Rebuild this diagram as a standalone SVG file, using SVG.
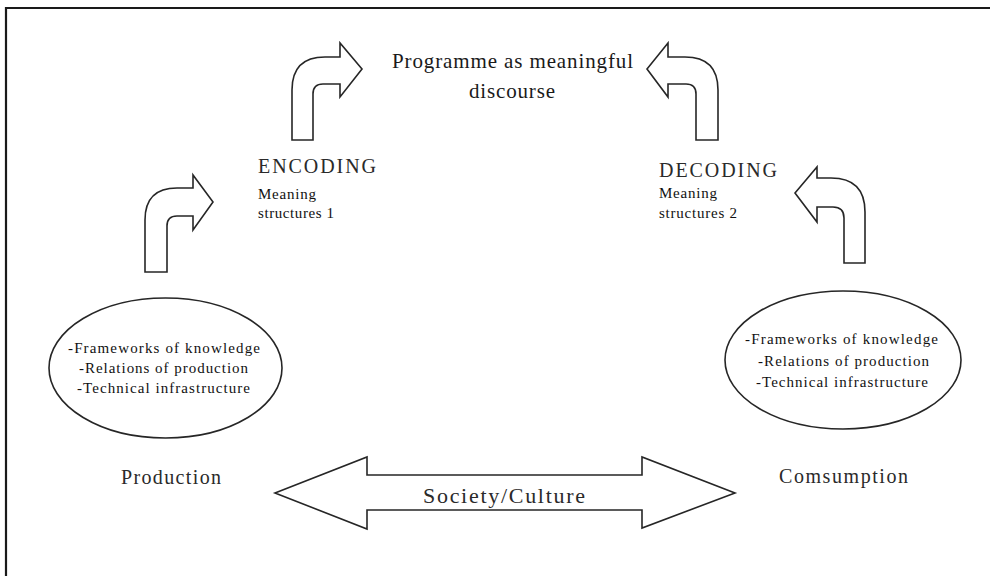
<svg xmlns="http://www.w3.org/2000/svg" width="990" height="576" viewBox="0 0 990 576">
  <style>
    .frame { fill: none; stroke: #1a1a1a; stroke-width: 2.2; }
    .shape { fill: #ffffff; stroke: #262626; stroke-width: 1.6; stroke-linejoin: miter; }
    .t { font-family: "Liberation Serif", "Times New Roman", serif; fill: #1a1a1a; }
    .title { font-size: 21px; }
    .head { font-size: 20px; fill: #2a2a2a; }
    .sub { font-size: 15px; fill: #111111; }
    .list { font-size: 15px; fill: #111111; }
    .label { font-size: 20px; fill: #2a2a2a; }
    .band { font-size: 22px; fill: #2a2a2a; }
  </style>

  <rect width="990" height="576" fill="#ffffff"/>
  <!-- outer border (open to the right and bottom) -->
  <path class="frame" d="M6,576 L6,8 L990,8"/>

  <!-- connectors: bent flow arrows and the society/culture band -->
  <g id="connectors">
    <path id="arrow-production-encoding" class="shape"
          d="M145,272 L145,220 Q145,188 177,188 L193,188 L193,175 L213,202 L193,230 L193,216 L177,216 Q167,216 167,226 L167,272 Z"/>
    <path id="arrow-encoding-programme" class="shape"
          d="M292,140 L292,90 Q292,57 325,57 L340,57 L340,43 L362,69 L340,97 L340,84 L323,84 Q313,84 313,94 L313,140 Z"/>
    <path id="arrow-decoding-programme" class="shape"
          d="M718,140 L718,90 Q718,57 685,57 L668,57 L668,43 L647,69 L668,97 L668,84 L686,84 Q696,84 696,94 L696,140 Z"/>
    <path id="arrow-consumption-decoding" class="shape"
          d="M865,263 L865,212 Q865,178 831,178 L817,178 L817,167 L795,193 L817,222 L817,207 L833,207 Q844,207 844,218 L844,263 Z"/>
    <g id="society-culture">
      <path class="shape"
            d="M275,493 L367,457 L367,475 L642,475 L642,457 L735,493 L642,528 L642,510 L367,510 L367,529 Z"/>
      <text class="t band" x="423" y="503" textLength="162" lengthAdjust="spacing">Society/Culture</text>
    </g>
  </g>

  <g id="programme">
    <text class="t title" x="392" y="68" textLength="241" lengthAdjust="spacing">Programme as meaningful</text>
    <text class="t title" x="469" y="98" textLength="86" lengthAdjust="spacing">discourse</text>
  </g>

  <g id="encoding">
    <text class="t head" x="258" y="173" textLength="118" lengthAdjust="spacing">ENCODING</text>
    <text class="t sub" x="258" y="199" textLength="58" lengthAdjust="spacing">Meaning</text>
    <text class="t sub" x="258" y="218" textLength="76" lengthAdjust="spacing">structures 1</text>
  </g>

  <g id="decoding">
    <text class="t head" x="659" y="177" textLength="118" lengthAdjust="spacing">DECODING</text>
    <text class="t sub" x="659" y="198" textLength="58" lengthAdjust="spacing">Meaning</text>
    <text class="t sub" x="659" y="218" textLength="78" lengthAdjust="spacing">structures 2</text>
  </g>

  <g id="production">
    <ellipse class="shape" cx="165.5" cy="368" rx="116.5" ry="70"/>
    <text class="t list" x="68" y="353" textLength="192" lengthAdjust="spacing">-Frameworks of knowledge</text>
    <text class="t list" x="79" y="373" textLength="169" lengthAdjust="spacing">-Relations of production</text>
    <text class="t list" x="77" y="393" textLength="173" lengthAdjust="spacing">-Technical infrastructure</text>
    <text class="t label" x="121" y="484" textLength="100" lengthAdjust="spacing">Production</text>
  </g>

  <g id="consumption">
    <ellipse class="shape" cx="843" cy="360" rx="118" ry="69"/>
    <text class="t list" x="745" y="344" textLength="193" lengthAdjust="spacing">-Frameworks of knowledge</text>
    <text class="t list" x="758" y="366" textLength="171" lengthAdjust="spacing">-Relations of production</text>
    <text class="t list" x="756" y="387" textLength="172" lengthAdjust="spacing">-Technical infrastructure</text>
    <text class="t label" x="779" y="483" textLength="129" lengthAdjust="spacing">Comsumption</text>
  </g>
</svg>
